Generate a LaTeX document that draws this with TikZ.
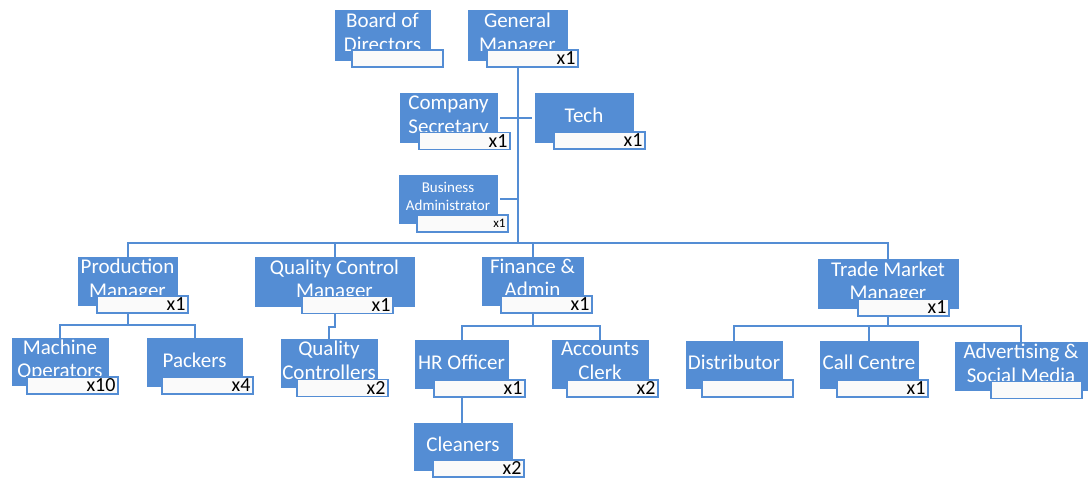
\documentclass[tikz,border=0pt]{standalone}
\usepackage{fontspec}
\setmainfont{Carlito}
\usetikzlibrary{backgrounds}
\definecolor{roleblue}{RGB}{84,141,212}
\tikzset{
  rolebox/.style={fill=roleblue, draw=roleblue, minimum height=49pt, inner sep=0pt},
  roletext/.style={text=white, align=center, font=\fontsize{21}{23.5}\selectfont, yshift=-0.5pt,
    execute at begin node=\strut, execute at end node=\strut},
  smalltext/.style={roletext, font=\fontsize{15}{18}\selectfont},
  countbox/.style={draw=roleblue, line width=1.5pt, fill=gray!4, minimum height=17pt,
    text width=86pt, align=right, inner xsep=2.5pt, inner ysep=0pt,
    font=\fontsize{20}{20}\selectfont},
  orgline/.style={draw=roleblue, line width=2pt}
}

\begin{document}
\begin{tikzpicture}[x=1pt,y=-1pt]
\useasboundingbox (0,0) rectangle (1090,479);

% top
\node[rolebox, minimum width=95pt, minimum height=50pt, label={[roletext]center:Board of\\Directors}] (bod) at (382.5,35) {};
\node[countbox] (bodn) at (397.5,58.5) {};
\node[rolebox, minimum width=99pt, minimum height=50pt, label={[roletext]center:General\\Manager}] (gm) at (517.5,35) {};
\node[countbox] (gmn) at (532.5,58.5) {x1};

\node[rolebox, minimum width=97pt, label={[roletext]center:Company\\Secretary}] (cs) at (448.5,117.5) {};
\node[countbox] (csn) at (464.5,141) {x1};
\node[rolebox, minimum width=98pt, label={[roletext]center:Tech}] (tech) at (584,117.5) {};
\node[countbox] (techn) at (599.5,140.5) {x1};

\node[rolebox, minimum width=98pt, minimum height=48pt, label={[smalltext]center:Business\\Administrator}] (ba) at (448,199) {};
\node[countbox, font=\fontsize{13}{13}\selectfont] (ban) at (462.5,223.5) {x1};

% managers
\node[rolebox, minimum width=99pt, minimum height=48pt, label={[roletext]center:Production\\Manager}] (pm) at (127.5,281) {};
\node[countbox] (pmn) at (142.5,304.5) {x1};
\node[rolebox, minimum width=159pt, label={[roletext]center:Quality Control\\Manager}] (qcm) at (334.5,281.5) {};
\node[countbox] (qcmn) at (347.5,305) {x1};
\node[rolebox, minimum width=101pt, minimum height=48pt, label={[roletext]center:Finance \&\\Admin}] (fa) at (532.5,281) {};
\node[countbox] (fan) at (546.5,304.5) {x1};
\node[rolebox, minimum width=140pt, label={[roletext]center:Trade Market\\Manager}] (tmm) at (888,283.5) {};
\node[countbox] (tmmn) at (903.5,307.5) {x1};

% staff
\node[rolebox, minimum width=96pt, minimum height=47pt, label={[roletext]center:Machine\\Operators}] (mo) at (60,361.5) {};
\node[countbox] (mon) at (72.5,385.5) {x10};
\node[rolebox, minimum width=95pt, minimum height=48pt, label={[roletext]center:Packers}] (pk) at (194.5,362) {};
\node[countbox] (pkn) at (207.5,385.5) {x4};
\node[rolebox, minimum width=96pt, minimum height=48pt, label={[roletext]center:Quality\\Controllers}] (qc) at (329,363) {};
\node[countbox] (qcn) at (342.5,388) {x2};
\node[rolebox, minimum width=93pt, minimum height=48pt, label={[roletext]center:HR Officer}] (hr) at (461.5,364) {};
\node[countbox] (hrn) at (479.5,388.5) {x1};
\node[rolebox, minimum width=96pt, minimum height=48pt, label={[roletext]center:Accounts\\Clerk}] (ac) at (600,364) {};
\node[countbox] (acn) at (612.5,388.5) {x2};
\node[rolebox, minimum width=98pt, minimum height=47pt, label={[roletext]center:Cleaners}] (cl) at (463,446.5) {};
\node[countbox] (cln) at (478.5,468.5) {x2};
\node[rolebox, minimum width=96pt, minimum height=47pt, label={[roletext]center:Distributor}] (dist) at (734,364.5) {};
\node[countbox] (distn) at (747.5,388.5) {};
\node[rolebox, minimum width=98pt, minimum height=47pt, label={[roletext]center:Call Centre}] (cc) at (869,364.5) {};
\node[countbox] (ccn) at (882.5,388.5) {x1};
\node[rolebox, minimum width=132pt, minimum height=48pt, label={[roletext]center:Advertising \&\\Social Media}] (adv) at (1021,366) {};
\node[countbox] (advn) at (1036.5,390) {};

% connectors
\begin{scope}[on background layer]
\coordinate (bus) at (517.5,243);
\draw[orgline] (gm.south) -- (bus);
\draw[orgline, shorten <=3pt, shorten >=3pt] (cs.east) -- (tech.west);
\draw[orgline, shorten <=3pt] (ba.east) -- (ba.east -| bus);
\draw[orgline] (pm.north) |- (bus) -| (tmm.north);
\draw[orgline] (qcm.north) -- (qcm.north |- bus);
\draw[orgline] (fa.north) -- (fa.north |- bus);

\draw[orgline] (pm.south) -- ++(0,20) coordinate (pmfork);
\draw[orgline] (mo.north) |- (pmfork) -| (pk.north);
\draw[orgline] (qcm.south) -- ++(0,21) -| (qc.north);
\draw[orgline] (fa.south) -- ++(0,21) coordinate (fafork);
\draw[orgline] (hr.north) |- (fafork) -| (ac.north);
\draw[orgline] (hr.south) -- (hr.south |- cl.north);
\draw[orgline] (tmm.south) -- ++(0,18) coordinate (tmfork);
\draw[orgline] (dist.north) |- (tmfork) -| (adv.north);
\draw[orgline] (cc.north) -- (cc.north |- tmfork);
\end{scope}

\end{tikzpicture}
\end{document}
